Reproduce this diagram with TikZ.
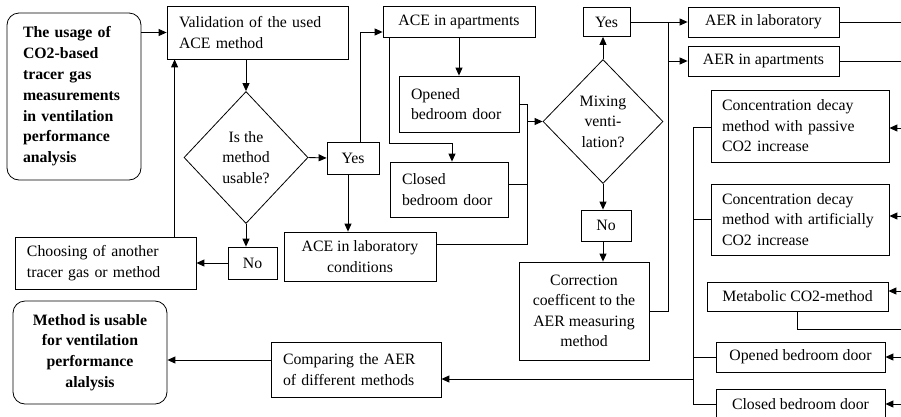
\documentclass[tikz,border=0pt]{standalone}
\usepackage{fontspec}
\setmainfont{Liberation Serif}
\usetikzlibrary{shapes.geometric,arrows.meta}
\begin{document}
\begin{tikzpicture}[x=1pt,y=-1pt,
  every node/.style={font=\fontsize{15.8}{20.5}\selectfont, inner sep=0pt, line width=0.8pt},
  box/.style={draw, rectangle, align=center},
  lbox/.style={draw, rectangle, align=left},
  rbox/.style={draw, rectangle, rounded corners=12pt, font=\fontsize{15.8}{20.8}\selectfont\bfseries},
  dia/.style={draw, diamond, align=center},
  con/.style={line width=0.9pt},
  arr/.style={con, -{Triangle[length=8pt,width=7pt]}}]
\useasboundingbox (0,0) rectangle (901,416);

\node[rbox, minimum width=134pt, minimum height=167pt, text width=102pt, align=left] (start) at (74,96.5) {The usage of\\CO2-based\\tracer gas\\measurements\\in ventilation\\performance\\analysis};
\node[lbox, minimum width=181pt, minimum height=53pt, text width=157pt] (valid) at (257.5,32.5) {Validation of the used\\ACE method};
\node[dia, minimum width=124pt, minimum height=132pt] (use) at (246,157.5) {Is the\\method\\usable?};
\node[box, minimum width=52pt, minimum height=32pt] (yes1) at (353,158) {Yes};
\node[box, minimum width=49pt, minimum height=32pt] (no1) at (252.5,263) {No};
\node[lbox, minimum width=181pt, minimum height=52pt, text width=157pt] (choose) at (105.5,263) {Choosing of another\\tracer gas or method};
\node[box, minimum width=152pt, minimum height=31pt] (aceapt) at (459,21.5) {ACE in apartments};
\node[box, minimum width=152pt, minimum height=49pt] (acelab) at (360,256.5) {ACE in laboratory\\conditions};
\node[lbox, minimum width=120pt, minimum height=56pt, text width=96pt] (open1) at (459,104) {Opened\\bedroom door};
\node[lbox, minimum width=118pt, minimum height=55pt, text width=94pt] (close1) at (449,189.5) {Closed\\bedroom door};
\node[dia, minimum width=120pt, minimum height=124pt] (mix) at (603,121.5) {Mixing\\venti-\\lation?};
\node[box, minimum width=47pt, minimum height=29pt] (yes2) at (606.5,22) {Yes};
\node[box, minimum width=50pt, minimum height=31pt] (no2) at (606,225.5) {No};
\node[box, minimum width=130pt, minimum height=98pt] (corr) at (584,311) {Correction\\coefficent to the\\AER measuring\\method};
\node[box, minimum width=151pt, minimum height=30pt] (aerlab) at (763.5,22) {AER in laboratory};
\node[box, minimum width=151pt, minimum height=30pt] (aerapt) at (763.5,61) {AER in apartments};
\node[lbox, minimum width=178pt, minimum height=72pt, text width=156pt] (passive) at (800,126) {Concentration decay\\method with passive\\CO2 increase};
\node[lbox, minimum width=178pt, minimum height=71pt, text width=156pt] (artif) at (800,219.5) {Concentration decay\\method with artificially\\CO2 increase};
\node[box, minimum width=181pt, minimum height=29pt] (metab) at (797.5,296.5) {Metabolic CO2-method};
\node[box, minimum width=169pt, minimum height=30pt] (open2) at (800.5,357) {Opened bedroom door};
\node[box, minimum width=169pt, minimum height=30pt] (close2) at (800.5,404) {Closed bedroom door};
\node[lbox, minimum width=170pt, minimum height=55pt, text width=146pt] (comp) at (356,369.5) {Comparing the AER\\of different methods};
\node[rbox, minimum width=154pt, minimum height=103pt, align=center] (method) at (90,352.5) {Method is usable\\for ventilation\\performance\\alalysis};

% left part
\draw[arr] (start.east |- valid.west) -- (valid.west);
\draw[arr] (valid.south -| use.north) -- (use.north);
\draw[arr] (use.east) -- (yes1.west);
\draw[arr] (use.south) -- (use.south |- no1.north);
\draw[arr] (no1.west) -- (choose.east);
\coordinate (vin) at ([xshift=8pt]valid.south west);
\draw[arr] (vin |- choose.north) -- (vin);
\draw[arr] ([xshift=7pt]yes1.north) |- ([yshift=-10.5pt]aceapt.west);
\draw[arr] ([xshift=-5pt]yes1.south) -- ([xshift=-5pt]yes1.south |- acelab.north);
\draw[arr] (aceapt.south) -- (open1.north);
\coordinate (k1) at (452,143);
\draw[arr] ([xshift=7pt]aceapt.south west) |- (k1) -- (k1 |- close1.north);

% merge into mixing
\coordinate (m) at (527,121.5);
\draw[con] (open1.east) -| (m);
\draw[con] ([yshift=5.5pt]close1.east) -| (m);
\draw[con] ([yshift=12.5pt]acelab.east) -| (m);
\draw[arr] (m) -- (mix.west);
\draw[arr] (mix.north) -- (mix.north |- yes2.south);
\draw[arr] (mix.south) -- (mix.south |- no2.north);
\draw[arr] (mix.south |- no2.south) -- (mix.south |- corr.north);

% right part
\coordinate (j) at (668,22);
\draw[arr] (yes2.east) -- (aerlab.west);
\draw[con] (corr.east) -| (j);
\draw[arr] (j |- aerapt.west) -- (aerapt.west);

\coordinate (e1) at (901,22);
\coordinate (e2) at (901,61);
\coordinate (e3) at (901,128);
\coordinate (e4) at (901,216);
\coordinate (e5) at (901,291);
\coordinate (e6) at (901,357);
\coordinate (e7) at (901,404);
\coordinate (e8) at (901,329);
\draw[con] (aerlab.east) -- (e1);
\draw[con] (aerapt.east) -- (e2);
\draw[arr] (e3) -- (e3 -| passive.east);
\draw[arr] (e4) -- (e4 -| artif.east);
\draw[arr] (e5) -- (e5 -| metab.east);
\draw[arr] (e6) -- (open2.east);
\draw[arr] (e7) -- (close2.east);
\draw[con] (metab.south) |- (e8);

% bus
\coordinate (bt) at (693,127);
\coordinate (bb) at (693,404);
\draw[con] (bt -| passive.west) -- (bt) -- (bb) -- (bb -| close2.west);
\draw[con] (artif.west) -- (artif.west -| bt);
\draw[con] (open2.west) -- (open2.west -| bt);
\path ([yshift=-9.5pt]comp.east) coordinate (cin);
\draw[arr] (cin -| bt) -- (cin);
\path ([yshift=9.5pt]comp.west) coordinate (cout);
\draw[arr] (cout) -- (cout -| method.east);
\end{tikzpicture}
\end{document}
